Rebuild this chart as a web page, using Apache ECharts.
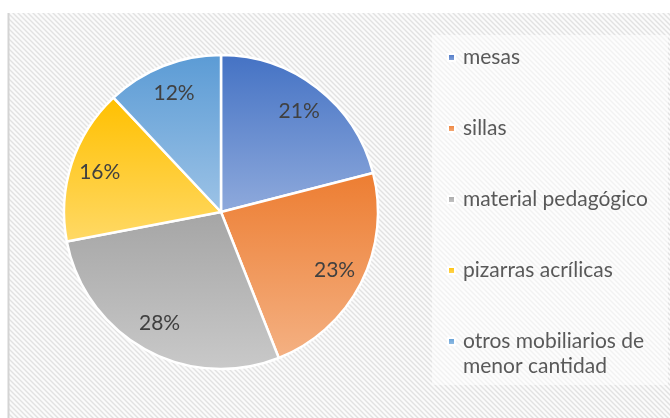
<!DOCTYPE html>
<html>
<head>
<meta charset="utf-8">
<script src="https://cdn.jsdelivr.net/npm/echarts@6/dist/echarts.min.js"></script>
<style>html,body{margin:0;padding:0;background:#fff;}#c{width:670px;height:418px;}</style>
</head>
<body>
<div id="c"></div>
<script>
const categories = ['mesas', 'sillas', 'material pedagógico', 'pizarras acrílicas', 'otros mobiliarios de\nmenor cantidad'];
const values = [21, 23, 28, 16, 12];
const topColors = ['#4472C4', '#ED7D31', '#A5A5A5', '#FFC000', '#5B9BD5'];
const bottomColors = ['#8FAADC', '#F4B183', '#C9C9C9', '#FFD966', '#9DC3E6'];

function makePattern() {
  const s = 5;
  const cv = document.createElement('canvas');
  cv.width = s; cv.height = s;
  const g = cv.getContext('2d');
  g.fillStyle = '#fbfbfb';
  g.fillRect(0, 0, s, s);
  g.strokeStyle = '#e2e2e2';
  g.lineWidth = 1.4;
  g.beginPath();
  g.moveTo(-1, -1); g.lineTo(s + 1, s + 1);
  g.moveTo(-1, s - 1); g.lineTo(1, s + 1);
  g.moveTo(s - 1, -1); g.lineTo(s + 1, 1);
  g.stroke();
  return cv;
}

const font = 'Lato';
const chart = echarts.init(document.getElementById('c'), null, {renderer: 'canvas'});

const mainData = categories.map((n, i) => ({
  name: n,
  value: values[i],
  itemStyle: {
    color: {type: 'linear', x: 0, y: 0, x2: 0, y2: 1,
      colorStops: [{offset: 0, color: topColors[i]}, {offset: 1, color: bottomColors[i]}]}
  }
}));
const labelData = categories.map((n, i) => ({name: n, value: values[i]}));

chart.setOption({
  animation: false,
  backgroundColor: '#ffffff',
  graphic: [
    {type: 'rect', z: -10, silent: true, shape: {x: 8, y: 13, width: 662, height: 405},
      style: {fill: {image: makePattern(), repeat: 'repeat'}}},
    {type: 'line', z: -9, silent: true, shape: {x1: 8.5, y1: 13, x2: 8.5, y2: 418},
      style: {stroke: '#d4d4d4', lineWidth: 2}},
    {type: 'rect', z: -8, silent: true, shape: {x: 432, y: 35, width: 236, height: 350},
      style: {fill: 'rgba(255,255,255,0.55)'}}
  ],
  legend: {
    orient: 'vertical',
    left: 447,
    top: 20,
    padding: 0,
    itemWidth: 7,
    itemHeight: 7,
    itemGap: -4,
    icon: 'rect',
    formatter: function (name) {
      return name.indexOf('\n') >= 0 ? '\n' + name : '\n' + name + '\n';
    },
    textStyle: {fontFamily: font, fontSize: 21, color: '#595959', lineHeight: 25, padding: [0, 0, 0, 3]},
    data: categories
  },
  series: [
    {
      type: 'pie',
      center: [221, 212],
      radius: [0, 157],
      startAngle: 90,
      clockwise: true,
      avoidLabelOverlap: false,
      silent: true,
      label: {show: false},
      labelLine: {show: false},
      itemStyle: {borderColor: '#ffffff', borderWidth: 2.5},
      data: mainData
    },
    {
      type: 'pie',
      center: [221, 212],
      radius: [92, 157],
      startAngle: 90,
      clockwise: true,
      silent: true,
      legendHoverLink: false,
      avoidLabelOverlap: false,
      itemStyle: {color: 'rgba(0,0,0,0)', borderWidth: 0},
      label: {show: true, position: 'inside', formatter: '{c}%', fontFamily: font, fontSize: 21, color: '#404040'},
      labelLine: {show: false},
      data: labelData
    }
  ]
});
</script>
</body>
</html>
